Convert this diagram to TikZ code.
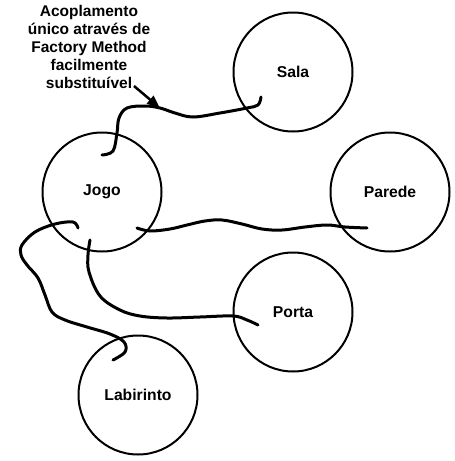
\documentclass[tikz,border=0pt]{standalone}
\usepackage{fontspec}
\setmainfont{Liberation Sans}
\usetikzlibrary{arrows.meta,calc}
\begin{document}
\begin{tikzpicture}[x=1pt,y=-1pt,
  obj/.style={circle,draw,line width=2pt,minimum size=119pt,inner sep=0pt,
    font=\fontsize{15.7}{18}\selectfont\bfseries},
  link/.style={line width=3pt,line cap=round,line join=round},
  notetext/.style={align=center,font=\fontsize{15.5}{18}\selectfont\bfseries,inner sep=0pt}]
\useasboundingbox (0,0) rectangle (455,461);
\node[obj] (sala) at (293,72) {Sala};
\node[obj] (parede) at (390,192) {Parede};
\node[obj] (jogo) at (102,192) {Jogo};
\node[obj] (porta) at (293,312) {Porta};
\node[obj] (lab) at (138,395) {Labirinto};
\node[notetext] (note) at (89,47) {Acoplamento\\único através de\\Factory Method\\facilmente\\substituível};
% endpoints
\coordinate (j1) at ($(jogo)+(0,-37)$);
\coordinate (s1) at ($(sala)+(-32,25)$);
\coordinate (j2) at ($(jogo)+(35,36)$);
\coordinate (p2) at ($(parede)+(-23,36)$);
\coordinate (j3) at ($(jogo)+(-12,48)$);
\coordinate (t3) at ($(porta)+(-35,13)$);
\coordinate (j4) at ($(jogo)+(-24,36)$);
\coordinate (l4) at ($(lab)+(-25,-35)$);
\coordinate (tip) at (160,108);
\coordinate (astart) at (134,86);
% Jogo - Sala
\draw[link] plot[smooth,tension=0.6] coordinates {(j1) (113,151) (117,133) (119,118) (127,108) (145,106) (160,108) (175,113) (193,117) (220,113) (247,108) (258,105) (261,97)};
% Jogo - Parede
\draw[link] plot[smooth,tension=0.6] coordinates {(j2) (150,231) (170,229) (187,225) (205,221) (222,220) (242,224) (262,229) (282,230) (305,227) (327,225) (345,227) (p2)};
% Jogo - Porta
\draw[link] plot[smooth,tension=0.6] coordinates {(j3) (88,255) (89,272) (100,296) (120,310) (140,316) (167,318) (200,317) (233,316) (247,320) (t3)};
% Jogo - Labirinto
\draw[link] plot[smooth,tension=0.6] coordinates {(j4) (73,222) (55,224) (35,232) (22,245) (21,255) (27,265) (38,278) (45,295) (52,312) (65,320) (87,327) (110,334) (124,342) (125,352) (l4)};
% arrow
\draw[line width=2.5pt,-{Triangle[length=13pt,width=10pt]}] (astart) -- (tip);
\end{tikzpicture}
\end{document}
